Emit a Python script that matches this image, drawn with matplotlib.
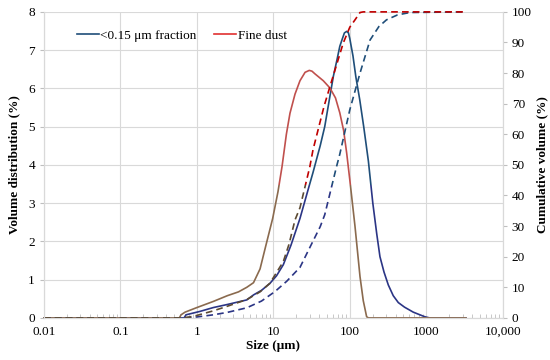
import matplotlib
matplotlib.use('Agg')
import matplotlib.pyplot as plt
from matplotlib.patches import Rectangle
from matplotlib.ticker import LogLocator, NullFormatter

plt.rcParams['font.family'] = ['Liberation Serif', 'DejaVu Serif']

# <0.15 um fraction, volume distribution (%)
frac_size = [0.01, 0.68, 0.72, 1.1, 1.64, 2.5, 4.5, 5.5, 7, 9, 11, 13.5, 17, 22.3, 28, 33, 41, 47,
             55, 61, 68, 74, 80, 85, 91, 96, 100, 110, 120, 135, 152, 175, 200, 225, 248, 280, 319,
             370, 431, 520, 676, 955, 1100, 3300]
frac_vol = [0, 0, 0.08, 0.17, 0.27, 0.35, 0.47, 0.6, 0.72, 0.9, 1.1, 1.39, 1.9, 2.6, 3.3, 3.8, 4.5, 5.0,
            5.8, 6.32, 6.75, 7.1, 7.3, 7.45, 7.49, 7.45, 7.3, 6.85, 6.3, 5.7, 5.0, 4.1, 3.0, 2.2, 1.6, 1.2,
            0.86, 0.58, 0.40, 0.28, 0.15, 0.03, 0, 0]

# <0.15 um fraction, cumulative volume (%)
frac_cum_size = [0.01, 0.7, 1, 1.64, 2.5, 4.5, 7, 10.5, 15, 22.3, 30, 41, 47, 67, 74, 100, 136,
                 184, 240, 302, 420, 612, 3300]
frac_cum = [0, 0, 0.3, 1.0, 1.8, 3.3, 5.5, 8.6, 12, 16.5, 23, 29.8, 33.7, 49.4, 53.5, 68, 80,
            90.8, 95.2, 97.4, 99.0, 99.8, 100]

# fine dust, volume distribution (%)
dust_size = [0.01, 0.59, 0.62, 0.7, 1.0, 1.64, 2.5, 3.5, 4.5, 5.5, 6.7, 8.0, 9.8, 11.5, 13,
             14.8, 16.5, 19.2, 22.3, 26, 29.5, 32, 35, 45, 55, 65, 74, 83, 91, 100, 117, 136, 150,
             166, 175, 3300]
dust_vol = [0, 0, 0.08, 0.15, 0.27, 0.43, 0.58, 0.68, 0.8, 0.92, 1.28, 1.9, 2.6, 3.3, 3.96,
            4.8, 5.35, 5.85, 6.2, 6.42, 6.47, 6.45, 6.38, 6.2, 6.01, 5.75, 5.36, 4.9, 4.31, 3.61,
            2.39, 1.08, 0.45, 0.03, 0, 0]

# fine dust, cumulative volume (%)
dust_cum_size = [0.01, 0.65, 0.8, 1, 1.64, 2.5, 4.5, 6.7, 9.0, 13.5, 16, 19.2, 22.3, 30, 33, 46,
                 55, 82, 100, 117, 136, 150, 3300]
dust_cum = [0, 0, 0.3, 0.8, 2.3, 3.8, 6.0, 8.5, 11.3, 18.4, 24, 32, 36, 49.4, 54.9, 69.1,
            75.6, 89.8, 95, 97.4, 99.8, 100, 100]

x_ticks = [0.01, 0.1, 1, 10, 100, 1000, 10000]
x_labels = ['0.01', '0.1', '1', '10', '100', '1000', '10,000']

blue = '#1f4e79'
blue_low = '#2b3585'
red = '#c0504d'
red_dash = '#c00000'
brown = '#8a6a4e'
brown_dash = '#5c4a32'
grid_c = '#d9d9d9'
split = 0.435  # colour change height (axes fraction)


def two_tone(axis, x, y, top_c, low_c, ls):
    for c, y0, h in [(low_c, 0, split), (top_c, split, 1.2)]:
        line, = axis.plot(x, y, color=c, lw=1.2, ls=ls, dashes=(4, 2.5) if ls == '--' else (None, None))
        rect = Rectangle((-0.1, y0), 1.2, h, transform=axis.transAxes, facecolor='none', edgecolor='none')
        axis.add_patch(rect)
        line.set_clip_path(rect)


fig = plt.figure(figsize=(5.5, 3.6), dpi=100)
ax = fig.add_axes([0.08, 0.117, 0.834, 0.85])
ax2 = ax.twinx()

ax.set_xscale('log')
ax.set_xlim(0.01, 10000)
ax.set_ylim(0, 8)
ax2.set_ylim(0, 100)

ax.grid(True, which='major', color=grid_c, lw=0.8)
ax.set_axisbelow(True)

two_tone(ax, frac_size, frac_vol, blue, blue_low, '-')
two_tone(ax, dust_size, dust_vol, red, brown, '-')
two_tone(ax2, frac_cum_size, frac_cum, blue, blue_low, '--')
two_tone(ax2, dust_cum_size, dust_cum, red_dash, brown_dash, '--')

ax.set_xticks(x_ticks)
ax.set_xticklabels(x_labels)
ax.xaxis.set_minor_locator(LogLocator(base=10, subs=range(2, 10)))
ax.xaxis.set_minor_formatter(NullFormatter())
ax.tick_params(axis='x', which='major', direction='in', length=0, labelsize=9.5, pad=6)
ax.tick_params(axis='x', which='minor', direction='in', length=3, color='#bfbfbf')
ax.set_yticks(range(0, 9))
ax.tick_params(axis='y', direction='out', length=3, color='#bfbfbf', labelsize=9.5)
ax2.set_yticks(range(0, 101, 10))
ax2.tick_params(axis='y', direction='out', length=3, color='#bfbfbf', labelsize=9.5)

for a in (ax, ax2):
    for s in a.spines.values():
        s.set_color(grid_c)
    a.spines['top'].set_visible(False)

ax.set_xlabel('Size (μm)', fontweight='bold', fontsize=9.5, labelpad=1)
ax.set_ylabel('Volume distribution (%)', fontweight='bold', fontsize=9.5, labelpad=6)
ax2.set_ylabel('Cumulative volume (%)', fontweight='bold', fontsize=9.5, labelpad=3)

h1, = ax.plot([], [], color=blue, lw=1.2, label='<0.15 μm fraction')
h2, = ax.plot([], [], color='#e03030', lw=1.2, label='Fine dust')
ax.legend(handles=[h1, h2], loc='upper left', bbox_to_anchor=(0.045, 0.98), ncol=2,
          frameon=False, handlelength=1.7, handletextpad=0.1, columnspacing=1.3, fontsize=9.5)

fig.savefig('out.png', dpi=100)
